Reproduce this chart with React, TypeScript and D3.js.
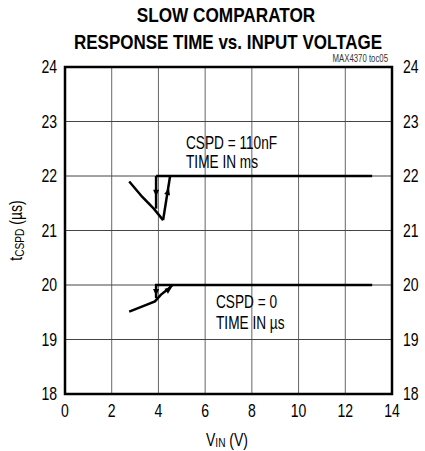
import * as d3 from "d3";
import type { ReactNode } from "react";

// data
const xTicks = [0, 2, 4, 6, 8, 10, 12, 14];
const yTicks = [18, 19, 20, 21, 22, 23, 24];

// CSPD = 110nF (ms)
const nfFall = [
  [2.75, 21.9],
  [3.3, 21.62],
  [3.8, 21.4],
  [4.2, 21.19],
];
const nfRise = [
  [4.2, 21.19],
  [4.5, 22.0],
];
const nfDrop = [
  [3.9, 22.0],
  [3.9, 21.4],
];
const nfFlat = [
  [3.9, 22.0],
  [13.15, 22.0],
];

// CSPD = 0 (us)
const zeroCurve = [
  [2.75, 19.51],
  [3.4, 19.62],
  [3.85, 19.7],
  [4.1, 19.82],
  [4.4, 19.92],
  [4.6, 20.0],
];
const zeroDrop = [
  [3.9, 20.0],
  [3.9, 19.76],
];
const zeroFlat = [
  [3.85, 20.0],
  [13.15, 20.0],
];

const W = 425;
const H = 451;
const M = { left: 65, right: 33, top: 67, bottom: 57 };
const font = "'Liberation Sans', Arial, sans-serif";

// Liberation Sans squeezed horizontally, to stand in for a narrow face
function N(props: {
  x: number;
  y: number;
  size: number;
  anchor?: "start" | "middle" | "end";
  weight?: string;
  dy?: string;
  rotate?: number;
  sx?: number;
  children: ReactNode;
}) {
  const { x, y, size, anchor = "start", weight, dy, rotate = 0, sx = 0.78, children } = props;
  return (
    <text
      transform={`translate(${x},${y}) rotate(${rotate}) scale(${sx},1)`}
      fontSize={size}
      textAnchor={anchor}
      fontWeight={weight}
      dy={dy}
    >
      {children}
    </text>
  );
}

export default function App() {
  const x = d3.scaleLinear().domain([0, 14]).range([M.left, W - M.right]);
  const y = d3.scaleLinear().domain([18, 24]).range([H - M.bottom, M.top]);
  const line = d3
    .line<number[]>()
    .x((d) => x(d[0]))
    .y((d) => y(d[1]));

  const arrow = (px: number, py: number, angle: number, key: string) => (
    <path
      key={key}
      d="M0,0 L-7,-3 L-7,3 Z"
      transform={`translate(${x(px)},${y(py)}) rotate(${angle})`}
      fill="#000"
    />
  );

  const curves = [nfFall, nfRise, nfDrop, nfFlat, zeroCurve, zeroDrop, zeroFlat];

  return (
    <svg
      width={W}
      height={H}
      style={{ position: "absolute", left: 0, top: 0, background: "#fff" }}
      fontFamily={font}
    >
      <N x={226} y={22} size={20} anchor="middle" weight="bold" sx={0.86}>
        SLOW COMPARATOR
      </N>
      <N x={228} y={49} size={20} anchor="middle" weight="bold" sx={0.85}>
        RESPONSE TIME vs. INPUT VOLTAGE
      </N>
      <N x={388} y={62} size={10} anchor="end">
        <tspan fill="#333">MAX4370 toc05</tspan>
      </N>

      {xTicks.slice(1, -1).map((t) => (
        <line key={"gx" + t} x1={x(t)} x2={x(t)} y1={y(18)} y2={y(24)} stroke="#666" strokeWidth={1} />
      ))}
      {yTicks.slice(1, -1).map((t) => (
        <line key={"gy" + t} x1={x(0)} x2={x(14)} y1={y(t)} y2={y(t)} stroke="#444" strokeWidth={1} />
      ))}

      {curves.map((c, i) => (
        <path key={"c" + i} d={line(c) ?? ""} fill="none" stroke="#000" strokeWidth={2.5} />
      ))}
      {arrow(3.9, 21.62, 90, "a1")}
      {arrow(4.45, 21.78, -75, "a2")}
      {arrow(3.9, 19.8, 90, "a3")}
      {arrow(4.58, 19.96, -35, "a4")}

      <rect
        x={x(0)}
        y={y(24)}
        width={x(14) - x(0)}
        height={y(18) - y(24)}
        fill="none"
        stroke="#000"
        strokeWidth={2.5}
      />

      {yTicks.map((t) => (
        <g key={"yt" + t}>
          <N x={57} y={y(t)} size={18} anchor="end" dy="0.36em">
            {t}
          </N>
          <N x={403} y={y(t)} size={18} dy="0.36em">
            {t}
          </N>
        </g>
      ))}
      {xTicks.map((t) => (
        <N key={"xt" + t} x={x(t)} y={417} size={18} anchor="middle">
          {t}
        </N>
      ))}

      <N x={227} y={446} size={18} anchor="middle">
        V<tspan fontSize={13} dy={1}>IN</tspan>
        <tspan dy={-1}> (V)</tspan>
      </N>
      <N x={22} y={y(21)} size={18} anchor="middle" rotate={-90}>
        t<tspan fontSize={13} dy={2}>CSPD</tspan>
        <tspan dy={-2}> (µs)</tspan>
      </N>

      <N x={186} y={149} size={17.5}>CSPD = 110nF</N>
      <N x={186} y={168} size={17.5}>TIME IN ms</N>
      <N x={216} y={308} size={17.5}>CSPD = 0</N>
      <N x={216} y={329} size={17.5}>TIME IN µs</N>
    </svg>
  );
}
